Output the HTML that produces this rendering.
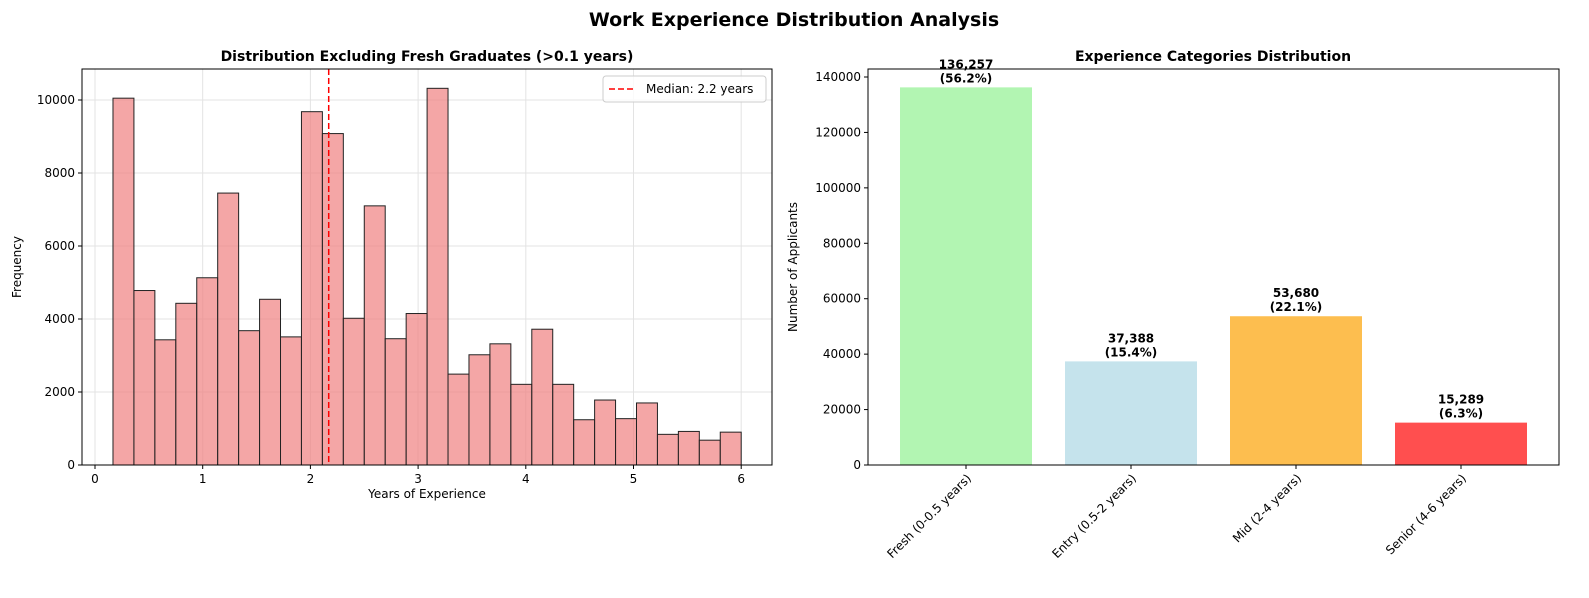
<!DOCTYPE html>
<html><head><meta charset="utf-8"><style>
body{margin:0;background:#fff;}
svg text{font-family:"DejaVu Sans","Liberation Sans",sans-serif;}
</style></head><body>
<svg id="c" width="1589" height="593" xmlns="http://www.w3.org/2000/svg">
<text x="794" y="26" text-anchor="middle" font-size="19" font-weight="bold">Work Experience Distribution Analysis</text>
<g id="left"></g>
<g id="right"></g>
</svg>
<script>
const histCounts=[10050,4780,3430,4430,5130,7450,3680,4540,3510,9680,9080,4020,7100,3460,4150,10320,2490,3020,3320,2210,3720,2210,1240,1780,1270,1700,840,920,680,900];
const histStart=0.167, histEnd=6.0;
const medianValue=2.17;
const xTicksL=[0,1,2,3,4,5,6];
const yTicksL=[0,2000,4000,6000,8000,10000];
const categories=["Fresh (0-0.5 years)","Entry (0.5-2 years)","Mid (2-4 years)","Senior (4-6 years)"];
const catValues=[136257,37388,53680,15289];
const catLabels=["136,257\n(56.2%)","37,388\n(15.4%)","53,680\n(22.1%)","15,289\n(6.3%)"];
const catColors=["#b2f5b2","#c5e3ec","#fdbe4f","#ff4f4f"];
const yTicksR=[0,20000,40000,60000,80000,100000,120000,140000];
const NS="http://www.w3.org/2000/svg";
function mk(p,t,a,txt){const e=document.createElementNS(NS,t);for(const k in a)e.setAttribute(k,a[k]);if(txt!==undefined)e.textContent=txt;p.appendChild(e);return e;}
const T=69,B=465;
// LEFT
const L=document.getElementById('left');
const lx0=82,lx1=772;
const xL=v=>95+v*107.7, yL=v=>B-v*(365/10000);
xTicksL.forEach(t=>{const g=mk(L,'line',{x1:xL(t),x2:xL(t),y1:T,y2:B,stroke:'#e3e3e3','stroke-width':1});});
yTicksL.forEach(t=>{const g=mk(L,'line',{x1:lx0,x2:lx1,y1:yL(t),y2:yL(t),stroke:'#e3e3e3','stroke-width':1});});
const bw=(histEnd-histStart)/histCounts.length;
histCounts.forEach((c,i)=>{const x=xL(histStart+i*bw),w=xL(histStart+(i+1)*bw)-x;
const r=mk(L,'rect',{x:x,y:yL(c),width:w,height:B-yL(c),fill:'rgba(240,128,128,0.7)',stroke:'#222','stroke-width':1});
});
const ml=mk(L,'line',{x1:xL(medianValue),x2:xL(medianValue),y1:T,y2:B,stroke:'red','stroke-width':1.5,'stroke-dasharray':'6,3'});

const f1=mk(L,'rect',{x:lx0,y:T,width:lx1-lx0,height:B-T,fill:'none',stroke:'#000','stroke-width':1});

xTicksL.forEach(t=>{mk(L,'line',{x1:xL(t),x2:xL(t),y1:B,y2:B+4,stroke:'#000'});
const s=mk(L,'text',{x:xL(t),y:B+18,'text-anchor':'middle','font-size':12},String(t));});
yTicksL.forEach(t=>{mk(L,'line',{x1:lx0-4,x2:lx0,y1:yL(t),y2:yL(t),stroke:'#000'});
const s=mk(L,'text',{x:lx0-7,y:yL(t)+4,'text-anchor':'end','font-size':12},String(t));});
let s=mk(L,'text',{x:427,y:498,'text-anchor':'middle','font-size':12},'Years of Experience');
s=mk(L,'text',{x:21,y:267,'text-anchor':'middle','font-size':12,transform:'rotate(-90 21 267)'},'Frequency');
s=mk(L,'text',{x:427,y:61,'text-anchor':'middle','font-size':14,'font-weight':'bold'},'Distribution Excluding Fresh Graduates (>0.1 years)');
const lg=mk(L,'g',{});
mk(lg,'rect',{x:603,y:76,width:163,height:26,rx:3,fill:'rgba(255,255,255,0.8)',stroke:'#ccc'});
mk(lg,'line',{x1:609,x2:635,y1:89,y2:89,stroke:'red','stroke-width':1.5,'stroke-dasharray':'6,3'});
s=mk(lg,'text',{x:646,y:93,'font-size':12},'Median: 2.2 years');
// RIGHT
const R=document.getElementById('right');
const rx0=868,rx1=1559;
const yR=v=>B-v*(388/140000);
const xR=i=>966+i*165;
catValues.forEach((v,i)=>{const r=mk(R,'rect',{x:xR(i)-66,y:yR(v),width:132,height:B-yR(v),fill:catColors[i]});

const lines=catLabels[i].split('\n');
const t1=mk(R,'text',{x:xR(i),y:yR(v)-19,'text-anchor':'middle','font-size':12,'font-weight':'bold'},lines[0]);
const t2=mk(R,'text',{x:xR(i),y:yR(v)-5,'text-anchor':'middle','font-size':12,'font-weight':'bold'},lines[1]);
mk(R,'line',{x1:xR(i),x2:xR(i),y1:B,y2:B+4,stroke:'#000'});
const tx=xR(i)+6,ty=B+14;
const c=mk(R,'text',{x:tx,y:ty,'text-anchor':'end','font-size':12,transform:'rotate(-45 '+tx+' '+ty+')'},categories[i]);});
const f2=mk(R,'rect',{x:rx0,y:T,width:rx1-rx0,height:B-T,fill:'none',stroke:'#000','stroke-width':1});

yTicksR.forEach(t=>{mk(R,'line',{x1:rx0-4,x2:rx0,y1:yR(t),y2:yR(t),stroke:'#000'});
const q=mk(R,'text',{x:rx0-7,y:yR(t)+4,'text-anchor':'end','font-size':12},String(t));});
s=mk(R,'text',{x:797,y:267,'text-anchor':'middle','font-size':12,transform:'rotate(-90 797 267)'},'Number of Applicants');
s=mk(R,'text',{x:1213,y:61,'text-anchor':'middle','font-size':14,'font-weight':'bold'},'Experience Categories Distribution');
</script>
</body></html>
